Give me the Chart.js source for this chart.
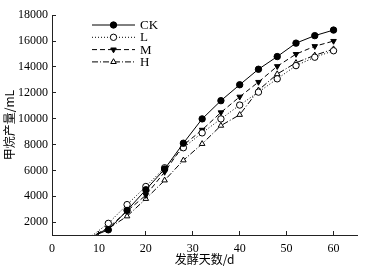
<!DOCTYPE html>
<html>
<head>
<meta charset="utf-8">
<script src="https://cdn.jsdelivr.net/npm/chart.js@4.4.0/dist/chart.umd.min.js"></script>
<style>
html,body{margin:0;padding:0;background:#fff;}
#wrap{width:366px;height:272px;}
</style>
</head>
<body>
<div id="wrap"><canvas id="c" width="366" height="272"></canvas></div>
<script>
const days = [8, 12, 16, 20, 24, 28, 32, 36, 40, 44, 48, 52, 56, 60];
const seriesCK = [800, 1400, 2900, 4500, 6100, 8100, 9980, 11390, 12620, 13820, 14800, 15840, 16420, 16850];
const seriesL  = [800, 1900, 3350, 4750, 6200, 7750, 8900, 9980, 11050, 12050, 13080, 14100, 14750, 15250];
const seriesM  = [800, 1550, 2850, 4080, 5870, 7950, 9130, 10480, 11690, 12830, 14050, 14990, 15600, 16000];
const seriesH  = [800, 1500, 2450, 3800, 5230, 6780, 8050, 9460, 10300, 12200, 13450, 14320, 14900, 15380];
const yTicks = [2000, 4000, 6000, 8000, 10000, 12000, 14000, 16000, 18000];
const xTicks = [0, 10, 20, 30, 40, 50, 60];
const seriesNames = ['CK', 'L', 'M', 'H'];

const FONT = '"Liberation Serif", "Times New Roman", "DejaVu Serif", serif';
const YMIN = 1000;

function pts(vals){ return days.map((d,i)=>({x:d, y:vals[i]})); }
function radius(ctx){ const v = ctx.raw && ctx.raw.y; return (v !== undefined && v < YMIN) ? 0 : 3.2; }

const datasets = [
  {label: seriesNames[0], data: pts(seriesCK), borderColor:'#000', backgroundColor:'#000', borderWidth:1,
   pointStyle:'circle', pointRadius:radius, pointBackgroundColor:'#000', pointBorderColor:'#000', pointBorderWidth:1, borderDash:[]},
  {label: seriesNames[1], data: pts(seriesL), borderColor:'#000', backgroundColor:'#fff', borderWidth:1,
   pointStyle:'circle', pointRadius:radius, pointBackgroundColor:'#fff', pointBorderColor:'#000', pointBorderWidth:1, borderDash:[1,2]},
  {label: seriesNames[2], data: pts(seriesM), borderColor:'#000', backgroundColor:'#000', borderWidth:1,
   pointStyle:'triangle', pointRotation:180, pointRadius:radius, pointBackgroundColor:'#000', pointBorderColor:'#000', pointBorderWidth:1, borderDash:[5,3]},
  {label: seriesNames[3], data: pts(seriesH), borderColor:'#000', backgroundColor:'#fff', borderWidth:1,
   pointStyle:'triangle', pointRadius:radius, pointBackgroundColor:'#fff', pointBorderColor:'#000', pointBorderWidth:1, borderDash:[6,2,1,2]}
];

const legendPlugin = {
  id: 'inlegend',
  afterDatasetsDraw(chart){
    const ctx = chart.ctx;
    const x0 = 92, x1 = 135, y0 = 25, dy = 12.3;
    chart.data.datasets.forEach((ds, i) => {
      const y = y0 + i*dy;
      ctx.save();
      ctx.strokeStyle = ds.borderColor;
      ctx.lineWidth = ds.borderWidth;
      ctx.setLineDash(ds.borderDash || []);
      ctx.beginPath(); ctx.moveTo(x0, y); ctx.lineTo(x1, y); ctx.stroke();
      ctx.setLineDash([]);
      ctx.fillStyle = ds.pointBackgroundColor;
      Chart.helpers.drawPoint(ctx, {pointStyle: ds.pointStyle, rotation: ds.pointRotation || 0, radius: 3.2, borderWidth: 1}, (x0+x1)/2, y);
      ctx.fillStyle = '#000';
      ctx.font = "13px " + FONT;
      ctx.textBaseline = 'middle';
      ctx.textAlign = 'left';
      ctx.fillText(ds.label, 140, y + 0.5);
      ctx.restore();
    });
  }
};

new Chart(document.getElementById('c'), {
  type: 'line',
  data: { datasets },
  options: {
    responsive: false,
    animation: false,
    devicePixelRatio: 1,
    layout: { padding: { top: 15, right: 9, left: 0, bottom: 0 } },
    plugins: { legend: {display:false}, tooltip: {enabled:false} },
    scales: {
      x: {
        type: 'linear', min: 0, max: 65,
        afterBuildTicks(s){ s.ticks = xTicks.map(v=>({value:v})); },
        afterFit(s){ s.height = 37; },
        grid: { drawOnChartArea:false, drawTicks:true, tickLength:-4, color:'#222', lineWidth:1 },
        border: { display:true, color:'#222', width:1 },
        ticks: { color:'#000', font:{family:FONT, size:12}, padding:11, maxRotation:0, callback:(v)=>String(v) },
        title: { display:true, text:'发酵天数/d', color:'#000', font:{family:"'Noto Sans CJK SC', sans-serif", size:12}, padding:{top:0, bottom:5} }
      },
      y: {
        type: 'linear', min: YMIN, max: 18000,
        afterBuildTicks(s){ s.ticks = yTicks.map(v=>({value:v})); },
        afterFit(s){ s.width = 52; },
        grid: { drawOnChartArea:false, drawTicks:true, tickLength:-4, color:'#222', lineWidth:1 },
        border: { display:true, color:'#222', width:1 },
        ticks: { color:'#000', font:{family:FONT, size:12}, padding:8, callback:(v)=>String(v) },
        title: { display:true, text:'甲烷产量/mL', color:'#000', font:{family:"'Noto Sans CJK SC', sans-serif", size:12}, padding:{top:2, bottom:0} }
      }
    }
  },
  plugins: [legendPlugin]
});
</script>
</body>
</html>
